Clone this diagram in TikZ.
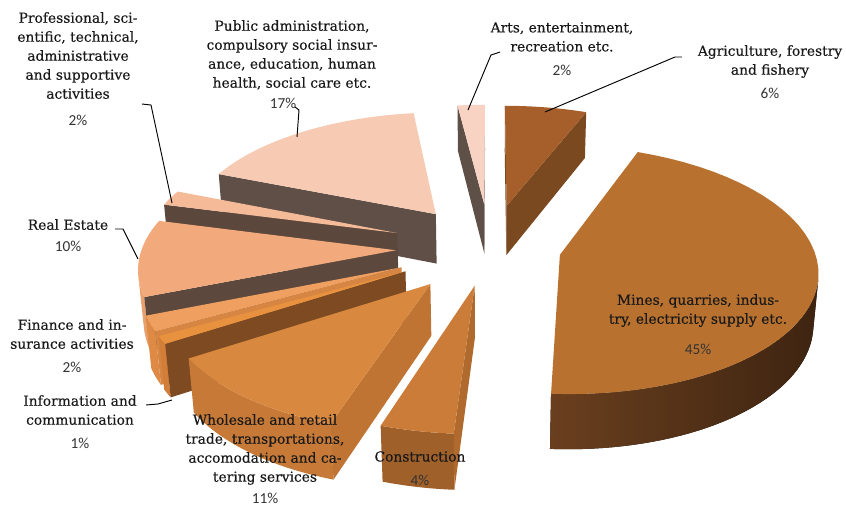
\documentclass[tikz,border=0pt]{standalone}
\usepackage{fontspec}
\setmainfont{DejaVu Serif}[FakeBold=0.3]
\newfontfamily\pctfont{Carlito}

\definecolor{artst}{HTML}{F8D2C2}
\definecolor{artss}{HTML}{5E4F47}
\definecolor{agrit}{HTML}{A65F2A}
\definecolor{agris}{HTML}{7A4920}
\definecolor{pubt}{HTML}{F7CAB3}
\definecolor{pubs}{HTML}{5F4F46}
\definecolor{proft}{HTML}{F5BB98}
\definecolor{profs}{HTML}{5C473D}
\definecolor{realt}{HTML}{F2AA7C}
\definecolor{reals}{HTML}{5D483D}
\definecolor{realw}{HTML}{E9A06F}
\definecolor{fint}{HTML}{EFA060}
\definecolor{fins}{HTML}{D68642}
\definecolor{finw}{HTML}{DE8A44}
\definecolor{infot}{HTML}{E8923F}
\definecolor{infos}{HTML}{7D4A22}
\definecolor{infow}{HTML}{D27E38}
\definecolor{wholt}{HTML}{D8883F}
\definecolor{whols}{HTML}{C07434}
\definecolor{wholw}{HTML}{C77A38}
\definecolor{const}{HTML}{CB7C38}
\definecolor{conss}{HTML}{B06A2E}
\definecolor{consw}{HTML}{A0602A}
\definecolor{minet}{HTML}{B8712F}
\definecolor{mines}{HTML}{5A3519}
\definecolor{minewa}{HTML}{6A3F1E}
\definecolor{minewb}{HTML}{3E2411}

% view of the pie
\def\pieX{490}
\def\pieY{298}
\def\pieS{250}
\def\pieSe{0.5}
\def\pieCe{0.866}
\def\pieD{7.47}
\def\pieH{0.23}
\def\pieCam{6.47}

% #1 start, #2 end (clockwise from top), #3 explode, #4 top, #5 sides, #6 wall style
\newcommand\pieslice[6]{%
  \pgfmathsetmacro\pOx{#3*sin((#1+#2)/2)}%
  \pgfmathsetmacro\pOy{#3*cos((#1+#2)/2)}%
  \pgfmathsetmacro\pB{\pieCam+(\pOy)}%
  \pgfmathsetmacro\pPhi{atan2(\pOx,\pB)}%
  \pgfmathsetmacro\pAc{acos(-1/sqrt((\pOx)*(\pOx)+(\pB)*(\pB)))}%
  \pgfmathsetmacro\pWa{max(#1,\pPhi+\pAc)}%
  \pgfmathsetmacro\pWb{min(#2,\pPhi+360-\pAc)}%
  \pgfmathtruncatemacro\pWall{\pWb>\pWa}%
  \pgfmathtruncatemacro\pFa{(\pOx)*cos(#1)-(\pB)*sin(#1)>0}%
  \pgfmathtruncatemacro\pFb{(\pB)*sin(#2)-(\pOx)*cos(#2)>0}%
  \coordinate (at) at ({px(\pOx,\pOy,\pieH)},{py(\pOx,\pOy,\pieH)});
  \coordinate (ab) at ({px(\pOx,\pOy,0)},{py(\pOx,\pOy,0)});
  \coordinate (st) at ({px(\pOx+sin(#1),\pOy+cos(#1),\pieH)},{py(\pOx+sin(#1),\pOy+cos(#1),\pieH)});
  \coordinate (sb) at ({px(\pOx+sin(#1),\pOy+cos(#1),0)},{py(\pOx+sin(#1),\pOy+cos(#1),0)});
  \coordinate (et) at ({px(\pOx+sin(#2),\pOy+cos(#2),\pieH)},{py(\pOx+sin(#2),\pOy+cos(#2),\pieH)});
  \coordinate (eb) at ({px(\pOx+sin(#2),\pOy+cos(#2),0)},{py(\pOx+sin(#2),\pOy+cos(#2),0)});
  \ifnum\pWall=1
    \fill[#6] plot[domain=\pWa:\pWb,samples=40,variable=\aa]
      ({px(\pOx+sin(\aa),\pOy+cos(\aa),\pieH)},{py(\pOx+sin(\aa),\pOy+cos(\aa),\pieH)})
      -- plot[domain=\pWb:\pWa,samples=40,variable=\aa]
      ({px(\pOx+sin(\aa),\pOy+cos(\aa),0)},{py(\pOx+sin(\aa),\pOy+cos(\aa),0)}) -- cycle;
  \fi
  \ifnum\pFa=1 \fill[#5] (at) -- (st) -- (sb) -- (ab) -- cycle; \fi
  \ifnum\pFb=1 \fill[#5] (at) -- (et) -- (eb) -- (ab) -- cycle; \fi
  \fill[#4] (at) -- plot[domain=#1:#2,samples=40,variable=\aa]
      ({px(\pOx+sin(\aa),\pOy+cos(\aa),\pieH)},{py(\pOx+sin(\aa),\pOy+cos(\aa),\pieH)}) -- cycle;
}

\tikzset{
  artsw/.style={fill=artss},
  agriw/.style={fill=agris},
  pubw/.style={fill=pubs},
  profw/.style={fill=profs},
  realwall/.style={fill=realw},
  finwall/.style={fill=finw},
  infowall/.style={fill=infow},
  wholwall/.style={fill=wholw},
  conswall/.style={fill=consw},
  minewall/.style={left color=minewa,right color=minewb},
  lbl/.style={align=center, anchor=north, inner sep=0pt, text=black!90,
    font=\fontsize{11.8}{16.2}\selectfont},
  pct/.style={inner sep=0pt, text=black!80, font=\pctfont\fontsize{13}{15}\selectfont},
  leader/.style={line width=0.8pt},
}

\begin{document}
\begin{tikzpicture}[x=0.3mm, y=-0.3mm,
  declare function={
    pw(\vv,\hh)=1+(\vv*\pieCe-\hh*\pieSe)/\pieD;
    px(\uu,\vv,\hh)=\pieX+\pieS*\uu/pw(\vv,\hh);
    py(\uu,\vv,\hh)=\pieY-\pieS*(\vv*\pieSe+\hh*\pieCe)/pw(\vv,\hh);
  }]
\useasboundingbox (0,0) rectangle (846,506);

\foreach \a/\b/\e/\tc/\sc/\wc in {
  352.8/360/0.37/artst/artss/artsw,
  0/21.6/0.364/agrit/agris/agriw,
  291.6/352.8/0.36/pubt/pubs/pubw,
  284.4/291.6/0.39/proft/profs/profw,
  248.4/284.4/0.37/realt/reals/realwall,
  241.2/248.4/0.378/fint/fins/finwall,
  237.6/241.2/0.378/infot/infos/infowall,
  198/237.6/0.37/wholt/whols/wholwall,
  183.6/198/0.31/const/conss/conswall,
  21.6/183.6/0.28/minet/mines/minewall}{
  \pieslice{\a}{\b}{\e}{fill=\tc}{fill=\sc}{\wc}
}

% labels
\node[lbl] (prof) at (78,12) {Professional, sci-\\entific, technical,\\administrative\\and supportive\\activities};
\node[pct] (profp) at (78,120) {2\%};
\node[lbl] (pub) at (292,20) {Public administration,\\compulsory social insur-\\ance, education, human\\health, social care etc.};
\node[pct] (pubp) at (283,103) {17\%};
\node[lbl] (arts) at (562,22) {Arts, entertainment,\\recreation etc.};
\node[pct] (artsp) at (562,70) {2\%};
\node[lbl] (agri) at (770,45) {Agriculture, forestry\\and fishery};
\node[pct] (agrip) at (770,93) {6\%};
\node[lbl] (real) at (68,219) {Real Estate};
\node[pct] (realp) at (68,246) {10\%};
\node[lbl] (fin) at (72,319) {Finance and in-\\surance activities};
\node[pct] (finp) at (72,367) {2\%};
\node[lbl] (info) at (80,395) {Information and\\communication};
\node[pct] (infop) at (80,443) {1\%};
\node[lbl] (whol) at (265,414) {Wholesale and retail\\trade, transportations,\\accomodation and ca-\\tering services};
\node[pct] (wholp) at (265,498) {11\%};
\node[lbl] (cons) at (420,451) {Construction};
\node[pct] (consp) at (420,480) {4\%};
\node[lbl] (mine) at (698,294) {Mines, quarries, indus-\\try, electricity supply etc.};
\node[pct] (minep) at (698,349) {45\%};

% leaders
\coordinate (profa) at (142,104);
\coordinate (profb) at (151,105);
\coordinate (profc) at (172,203);
\coordinate (reala) at (115,229);
\coordinate (realb) at (123,229);
\coordinate (realc) at (138,259);
\coordinate (puba) at (295,107);
\coordinate (pubb) at (299,110);
\coordinate (pubc) at (297,137);
\coordinate (artsa) at (500,52);
\coordinate (artsb) at (491,55);
\coordinate (artsc) at (468,110);
\coordinate (agria) at (682,57);
\coordinate (agrib) at (675,57);
\coordinate (agric) at (545,112);
\coordinate (infoa) at (146,405);
\coordinate (infob) at (158,404);
\coordinate (infoc) at (172,400);
\draw[leader] (profa) -- (profb) -- (profc);
\draw[leader] (reala) -- (realb) -- (realc);
\draw[leader] (puba) -- (pubb) -- (pubc);
\draw[leader] (artsa) -- (artsb) -- (artsc);
\draw[leader] (agria) -- (agrib) -- (agric);
\draw[leader] (infoa) -- (infob) -- (infoc);

\end{tikzpicture}
\end{document}
